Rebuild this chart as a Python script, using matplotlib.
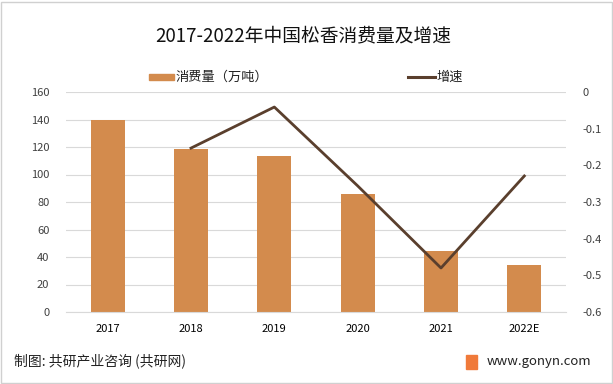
import matplotlib
matplotlib.use('Agg')
import matplotlib.pyplot as plt
from matplotlib.patches import Rectangle
from matplotlib.lines import Line2D

plt.rcParams['font.family'] = ['Noto Sans CJK SC', 'DejaVu Sans']

years = ['2017', '2018', '2019', '2020', '2021', '2022E']
consumption = [140, 118.5, 113.5, 85.8, 44.4, 34.2]
growth_years = ['2018', '2019', '2020', '2021', '2022E']
growth = [-0.153, -0.041, -0.256, -0.48, -0.229]

bar_color = '#D38B4D'
line_color = '#5A3F2D'

W, H = 613, 384
fig = plt.figure(figsize=(W / 100, H / 100), dpi=100)
ax = fig.add_axes([66 / W, 1 - 312 / H, 500 / W, 220 / H])

x = list(range(len(years)))
ax.bar(x, consumption, width=0.41, color=bar_color, zorder=2)
ax.set_xlim(-0.5, len(years) - 0.5)
ax.set_ylim(0, 160)
ax.set_yticks(range(0, 161, 20))
ax.set_xticks(x)
ax.set_xticklabels(years)
ax.grid(axis='y', color='#D9D9D9', linewidth=0.8, zorder=0)
for s in ['top', 'right', 'left']:
    ax.spines[s].set_visible(False)
ax.spines['bottom'].set_color('#D9D9D9')
ax.tick_params(axis='both', length=0, labelsize=8, colors='#404040')
ax.tick_params(axis='x', pad=9, colors='#000000')
ax.tick_params(axis='y', pad=12)

ax2 = ax.twinx()
gx = [years.index(y) for y in growth_years]
ax2.plot(gx, growth, color=line_color, linewidth=2, zorder=3)
ax2.set_ylim(-0.6, 0)
ax2.set_yticks([0, -0.1, -0.2, -0.3, -0.4, -0.5, -0.6])
ax2.set_yticklabels(['0', '-0.1', '-0.2', '-0.3', '-0.4', '-0.5', '-0.6'])
for s in ax2.spines.values():
    s.set_visible(False)
ax2.tick_params(axis='y', length=0, labelsize=8, colors='#404040', pad=12)

fig.text(303 / W, 1 - 36 / H, '2017-2022年中国松香消费量及增速', ha='center', va='center',
         fontsize=13.5, color='#111111')

# legend
fig.patches.append(Rectangle((149 / W, 1 - 80 / H), 25 / W, 6 / H,
                             transform=fig.transFigure, color=bar_color))
fig.text(176 / W, 1 - 77 / H, '消费量（万吨）', va='center', fontsize=9.5, color='#222222')
fig.lines.append(Line2D([408 / W, 435 / W], [1 - 77 / H, 1 - 77 / H],
                        transform=fig.transFigure, color=line_color, linewidth=2.2))
fig.text(436 / W, 1 - 77 / H, '增速', va='center', fontsize=9.5, color='#222222')

# footer
fig.text(14 / W, 1 - 361 / H, '制图: 共研产业咨询 (共研网)', va='center',
         fontsize=10, color='#222222')
fig.patches.append(Rectangle((466 / W, 1 - 369 / H), 11 / W, 14 / H,
                             transform=fig.transFigure, color='#F07A3A'))
fig.text(487 / W, 1 - 361 / H, 'www.gonyn.com', va='center',
         fontsize=9.5, color='#222222')

# border
fig.patches.append(Rectangle((1.5 / W, 1.5 / H), (W - 3) / W, (H - 3) / H,
                             transform=fig.transFigure, fill=False,
                             edgecolor='#D0D0D0', linewidth=1))

fig.savefig('out.png', dpi=100)
